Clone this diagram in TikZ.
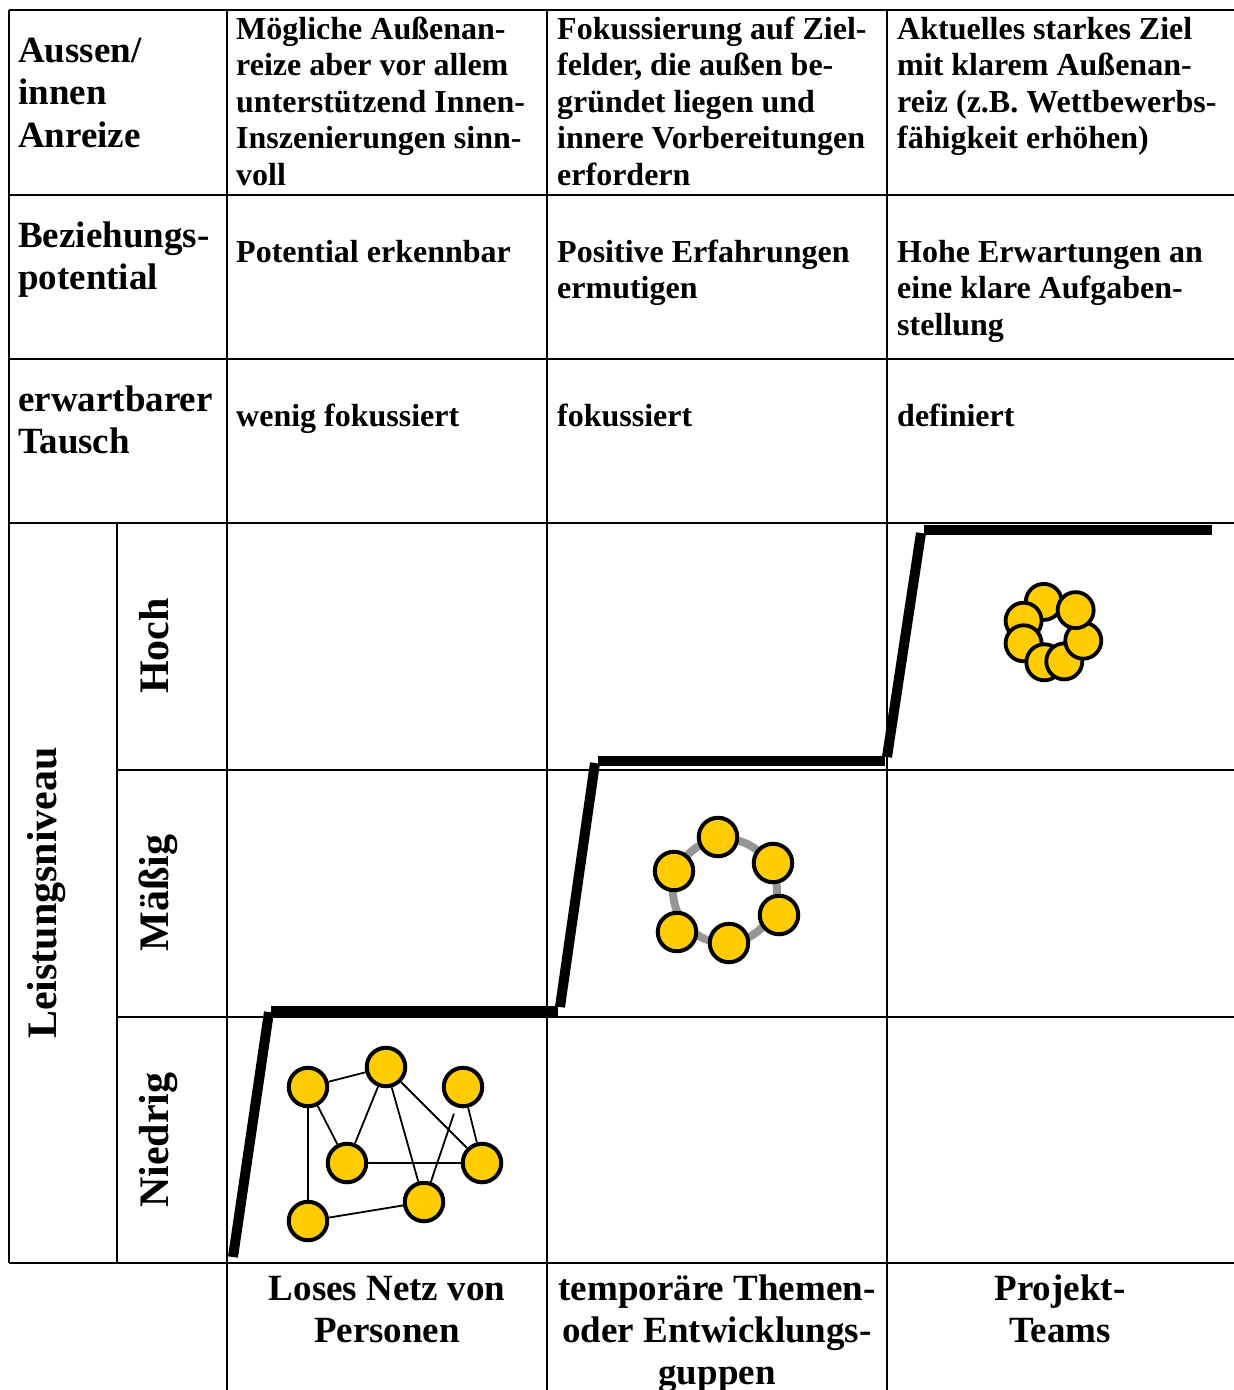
\documentclass[tikz,border=0pt]{standalone}
\usepackage{fontspec}
\setmainfont{Liberation Serif}
\usetikzlibrary{backgrounds}
\definecolor{dotyellow}{HTML}{FFCC00}
\definecolor{ringgray}{HTML}{969696}
\begin{document}
\begin{tikzpicture}[x=1pt,y=-1pt,
  rule/.style={line width=2.8pt},
  stairline/.style={line width=10pt},
  member/.style={circle, draw=black, line width=4pt, fill=dotyellow,
                 minimum size=38.5pt, inner sep=0pt},
  petal/.style={circle, draw=black, line width=3.8pt, fill=dotyellow,
                minimum size=36pt, inner sep=0pt},
  tie/.style={line width=1.8pt},
  % multi-line nodes: the base anchor sits on the baseline of the last line
  rowhead/.style={font=\fontsize{37}{42.5}\selectfont\bfseries,
                  align=left, anchor=base west, inner sep=0pt},
  cell/.style={font=\fontsize{32}{36.5}\selectfont\bfseries,
               align=left, anchor=base west, inner sep=0pt},
  colfoot/.style={font=\fontsize{37}{42}\selectfont\bfseries,
                  align=center, anchor=base, inner sep=0pt},
  level/.style={font=\fontsize{42}{46}\selectfont\bfseries,
                rotate=90, anchor=base, inner sep=0pt}]
\useasboundingbox (0,0) rectangle (1234,1390);

% table rules
\draw[rule] (9,10) -- (1234,10);
\draw[rule] (9,195) -- (1234,195);
\draw[rule] (9,359) -- (1234,359);
\draw[rule] (9,523) -- (1234,523);
\draw[rule] (117,770) -- (1234,770);
\draw[rule] (117,1017) -- (1234,1017);
\draw[rule] (9,1263) -- (1234,1263);
\draw[rule] (9,10) -- (9,1263);
\draw[rule] (117,523) -- (117,1263);
\draw[rule] (227,10) -- (227,1390);
\draw[rule] (547,10) -- (547,1390);
\draw[rule] (887,10) -- (887,1390);

% header rows
\node[rowhead] (incentive) at (18,147) {Aussen/\\innen\\Anreize};
\node[cell] (inc1) at (236,185) {Mögliche Außenan-\\reize aber vor allem\\unterstützend Innen-\\Inszenierungen sinn-\\voll};
\node[cell] (inc2) at (557,185) {Fokussierung auf Ziel-\\felder, die außen be-\\gründet liegen und\\innere Vorbereitungen\\erfordern};
\node[cell] (inc3) at (897,148.5) {Aktuelles starkes Ziel\\mit klarem Außenan-\\reiz (z.B. Wettbewerbs-\\fähigkeit erhöhen)};

\node[rowhead] (relation) at (18,289.5) {Beziehungs-\\potential};
\node[cell] (rel1) at (236,262) {Potential erkennbar};
\node[cell] (rel2) at (557,298.5) {Positive Erfahrungen\\ermutigen};
\node[cell] (rel3) at (897,335) {Hohe Erwartungen an\\eine klare Aufgaben-\\stellung};

\node[rowhead] (exchange) at (18,453.5) {erwartbarer\\Tausch};
\node[cell] (ex1) at (236,426) {wenig fokussiert};
\node[cell] (ex2) at (557,426) {fokussiert};
\node[cell] (ex3) at (897,426) {definiert};

% performance levels
\node[level] (perf) at (56,893) {Leistungsniveau};
\node[level] (high) at (168,646) {Hoch};
\node[level] (mid) at (168,893) {Mäßig};
\node[level] (low) at (168,1140) {Niedrig};

% column captions
\node[colfoot] (loose) at (387,1342) {Loses Netz von\\Personen};
\node[colfoot] (temp) at (717,1384) {temporäre Themen-\\oder Entwicklungs-\\guppen};
\node[colfoot] (proj) at (1060,1342) {Projekt-\\Teams};

% staircase
\draw[stairline] (233,1257) -- (269,1012);
\draw[stairline] (271,1011) -- (558,1011);
\draw[stairline] (560,1007) -- (595,763);
\draw[stairline] (598,761) -- (885,761);
\draw[stairline] (887,757) -- (921,533);
\draw[stairline] (924,530) -- (1212,530);

% loose network
\node[member] (na) at (308,1087) {};
\node[member] (nb) at (386,1067) {};
\node[member] (nc) at (463,1087) {};
\node[member] (nd) at (347,1163) {};
\node[member] (ne) at (482,1163) {};
\node[member] (nf) at (308,1221) {};
\node[member] (ng) at (424,1202) {};
\begin{scope}[on background layer]
  \draw[tie] (na) -- (nb);
  \draw[tie] (na) -- (nd);
  \draw[tie] (na) -- (nf);
  \draw[tie] (nb) -- (nd);
  \draw[tie] (nb) -- (ng);
  \draw[tie] (nb) -- (ne);
  \draw[tie] (nd) -- (ne);
  \draw[tie] (nc) -- (ne);
  \draw[tie, shorten >=7pt] (ng) -- (nc);
  \draw[tie] (nf) -- (ng);
\end{scope}

% ring of a temporary group
\draw[ringgray, line width=8pt] (725,891) circle (52);
\node[member] (r1) at (718,837) {};
\node[member] (r2) at (773,863) {};
\node[member] (r3) at (779,915) {};
\node[member] (r4) at (729,943) {};
\node[member] (r5) at (677,932) {};
\node[member] (r6) at (674,871) {};

% tight project team
\foreach \a [count=\i] in {107,159,201,254,291,344,404}
  \node[petal] (p\i) at ({1053+31.5*cos(\a)},{632-31.5*sin(\a)}) {};
\end{tikzpicture}
\end{document}
